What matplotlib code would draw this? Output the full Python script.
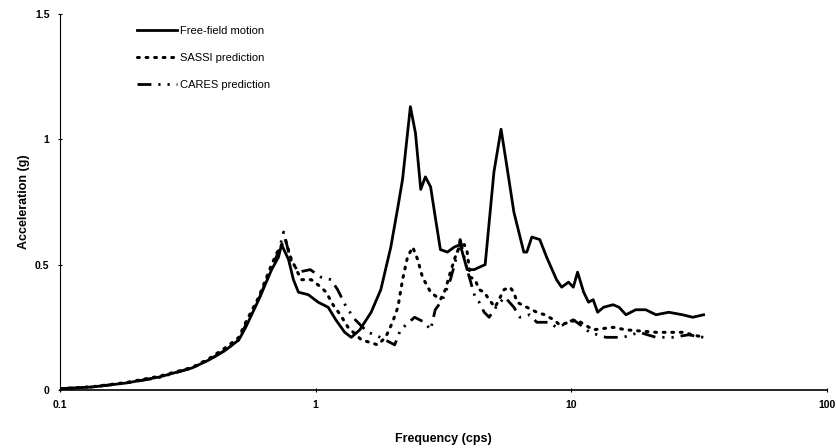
import matplotlib
matplotlib.use("Agg")
import matplotlib.pyplot as plt
from matplotlib.ticker import FixedLocator, NullLocator

plt.rcParams['font.family'] = ['Liberation Sans', 'DejaVu Sans']

# Free-field motion (solid)
free_f = [0.1, 0.134, 0.182, 0.245, 0.329, 0.383, 0.446, 0.501, 0.533, 0.599, 0.673, 0.716, 0.736,
          0.784, 0.819, 0.857, 0.937, 1.024, 1.12, 1.20, 1.30, 1.38, 1.49, 1.65, 1.80, 1.97, 2.10,
          2.19, 2.35, 2.46, 2.58, 2.69, 2.82, 2.94, 3.08, 3.28, 3.49, 3.68, 3.92, 4.17, 4.61, 4.99,
          5.32, 5.61, 5.97, 6.53, 6.71, 7.02, 7.54, 8.02, 8.77, 9.18, 9.77, 10.2, 10.6, 11.2, 11.7,
          12.2, 12.7, 13.4, 14.6, 15.4, 16.4, 17.9, 19.6, 21.5, 24.1, 27.3, 29.9, 33.0]
free_a = [0.005, 0.012, 0.028, 0.052, 0.088, 0.12, 0.16, 0.20, 0.25, 0.36, 0.48, 0.53, 0.58,
          0.52, 0.44, 0.39, 0.38, 0.35, 0.33, 0.28, 0.23, 0.21, 0.24, 0.31, 0.40, 0.57, 0.73,
          0.84, 1.13, 1.025, 0.80, 0.85, 0.81, 0.69, 0.56, 0.55, 0.57, 0.58, 0.48, 0.48, 0.50, 0.87,
          1.04, 0.89, 0.71, 0.55, 0.55, 0.61, 0.60, 0.53, 0.44, 0.41, 0.43, 0.41, 0.47, 0.39, 0.35,
          0.36, 0.31, 0.33, 0.34, 0.33, 0.30, 0.32, 0.32, 0.30, 0.31, 0.30, 0.29, 0.30]

# SASSI prediction (dotted)
sassi_f = [0.1, 0.134, 0.182, 0.245, 0.329, 0.383, 0.446, 0.501, 0.533, 0.599, 0.673, 0.716, 0.762,
           0.798, 0.841, 0.879, 0.962, 1.05, 1.10, 1.17, 1.25, 1.34, 1.51, 1.63, 1.75, 1.88, 2.00,
           2.10, 2.19, 2.29, 2.40, 2.51, 2.62, 2.82, 3.08, 3.22, 3.37, 3.52, 3.65, 3.82, 3.92, 4.03,
           4.21, 4.37, 4.57, 4.78, 5.04, 5.22, 5.46, 5.76, 5.97, 6.14, 6.71, 7.34, 7.89, 8.55, 9.02,
           9.86, 10.5, 12.2, 14.6, 16.4, 21.5, 27.3, 33.0]
sassi_a = [0.005, 0.013, 0.03, 0.055, 0.09, 0.125, 0.17, 0.21, 0.27, 0.37, 0.50, 0.56, 0.60,
           0.53, 0.48, 0.44, 0.44, 0.41, 0.39, 0.34, 0.30, 0.25, 0.20, 0.19, 0.18, 0.21, 0.27,
           0.33, 0.44, 0.53, 0.57, 0.52, 0.45, 0.39, 0.36, 0.40, 0.47, 0.53, 0.57, 0.58, 0.55, 0.45,
           0.44, 0.40, 0.39, 0.36, 0.33, 0.36, 0.40, 0.41, 0.39, 0.35, 0.33, 0.31, 0.30, 0.28, 0.26,
           0.27, 0.28, 0.24, 0.25, 0.24, 0.23, 0.23, 0.21]

# CARES prediction (dash-dot)
cares_f = [0.1, 0.134, 0.182, 0.245, 0.329, 0.383, 0.446, 0.501, 0.533, 0.599, 0.673, 0.716, 0.75,
           0.798, 0.857, 0.953, 1.05, 1.15, 1.22, 1.32, 1.43, 1.60, 1.71, 1.87, 2.04, 2.15, 2.44,
           2.67, 2.82, 2.94, 3.14, 3.37, 3.52, 3.68, 3.92, 4.10, 4.21, 4.37, 4.57, 4.78, 4.99, 5.27,
           5.51, 5.97, 6.30, 6.89, 7.34, 8.17, 8.77, 9.33, 10.2, 11.2, 11.8, 13.7, 16.0, 18.5, 21.5,
           25.0, 28.8, 33.0]
cares_a = [0.005, 0.012, 0.028, 0.05, 0.088, 0.12, 0.16, 0.20, 0.26, 0.36, 0.49, 0.55, 0.63,
           0.52, 0.47, 0.48, 0.45, 0.44, 0.40, 0.33, 0.28, 0.23, 0.22, 0.20, 0.18, 0.24, 0.29,
           0.27, 0.24, 0.32, 0.36, 0.44, 0.51, 0.60, 0.48, 0.41, 0.37, 0.35, 0.31, 0.29, 0.32, 0.35,
           0.37, 0.33, 0.29, 0.30, 0.27, 0.27, 0.25, 0.26, 0.28, 0.25, 0.23, 0.21, 0.21, 0.23, 0.21,
           0.21, 0.22, 0.21]

x_ticks = [0.1, 1, 10, 100]
x_tick_labels = ["0.1", "1", "10", "100"]
y_ticks = [0, 0.5, 1, 1.5]
y_tick_labels = ["0", "0.5", "1", "1.5"]

fig = plt.figure(figsize=(8.36, 4.48), dpi=100)
ax = fig.add_axes([0.0718, 0.1295, 0.917, 0.8395])

ax.plot(free_f, free_a, color='black', lw=2.0, label='Free-field motion')
ax.plot(sassi_f, sassi_a, color='black', lw=2.2, linestyle=(0, (0.6, 2.2)),
        dash_capstyle='round', label='SASSI prediction')
ax.plot(cares_f, cares_a, color='black', lw=2.0, linestyle=(0, (5, 2.5, 0.8, 2.5, 0.8, 2.5)),
        label='CARES prediction')

ax.set_xscale('log')
ax.set_xlim(0.1, 100)
ax.set_ylim(0, 1.5)
ax.xaxis.set_major_locator(FixedLocator(x_ticks))
ax.xaxis.set_minor_locator(NullLocator())
ax.set_xticklabels(x_tick_labels, fontsize=7.5, fontweight='bold')
ax.yaxis.set_major_locator(FixedLocator(y_ticks))
ax.set_yticklabels(y_tick_labels, fontsize=7.5, fontweight='bold')
ax.tick_params(axis='both', length=3, width=0.8, direction='inout', pad=6)

for s in ['top', 'right']:
    ax.spines[s].set_visible(False)
ax.spines['left'].set_linewidth(0.8)
ax.spines['bottom'].set_linewidth(1.2)

ax.set_xlabel('Frequency (cps)', fontsize=9, fontweight='bold', labelpad=16)
ax.set_ylabel('Acceleration (g)', fontsize=9, fontweight='bold', labelpad=4)

leg = ax.legend(loc='upper left', bbox_to_anchor=(0.088, 0.995), frameon=False, fontsize=8,
                handlelength=3.6, handletextpad=0.25, labelspacing=1.55)

fig.savefig('out.png', dpi=100, facecolor='white')
